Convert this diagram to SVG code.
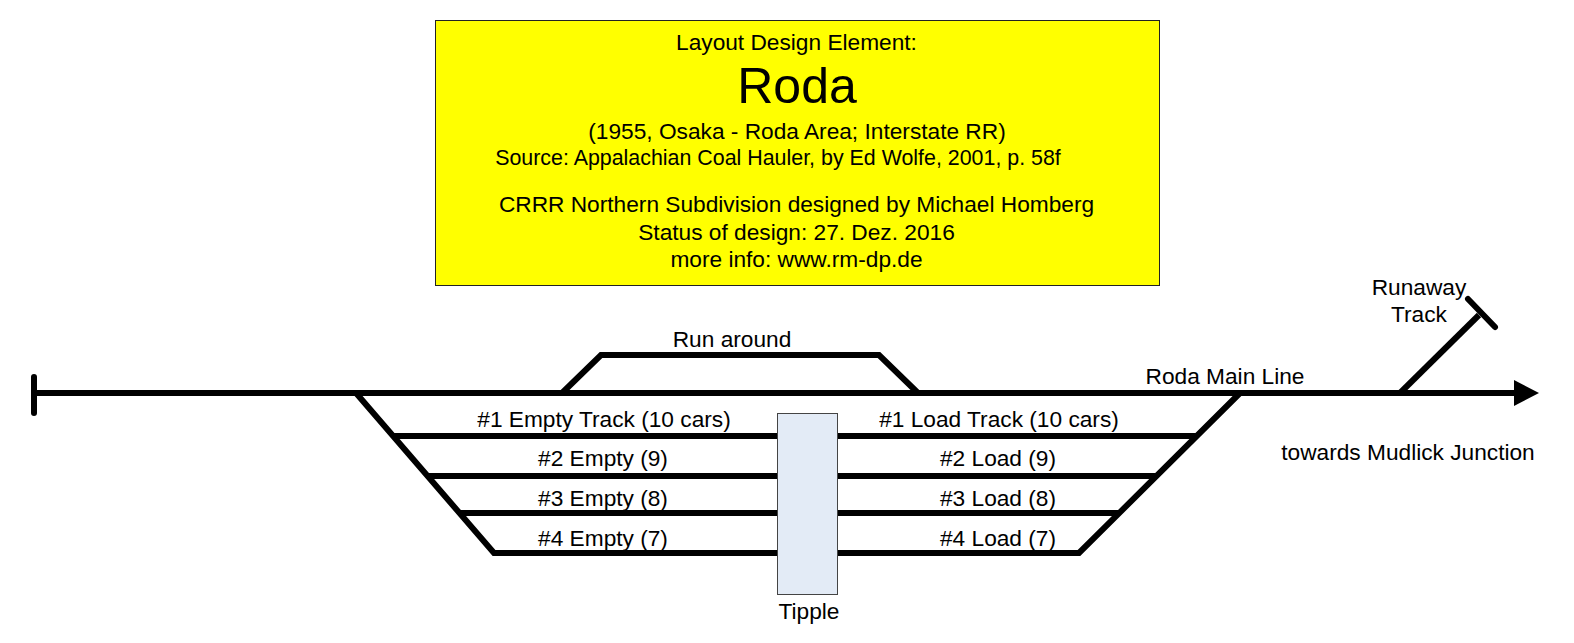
<svg xmlns="http://www.w3.org/2000/svg" width="1574" height="643" viewBox="0 0 1574 643">
<style>
text{font-family:"Liberation Sans",Arial,sans-serif;font-size:22.700px;fill:#000;text-anchor:middle}
.t{fill:none;stroke:#000;stroke-width:6}
.r{stroke-linecap:round}
</style>
<defs><marker id="a" markerUnits="userSpaceOnUse" markerWidth="26" markerHeight="28" refX="1" refY="14" orient="auto"><path d="M0 1L25 14L0 27z" fill="#000"/></marker></defs>
<rect width="1574" height="643" fill="#fff"/>
<g id="title">
<rect x="435.500" y="20.500" width="724" height="265" fill="#ff0" stroke="#222" stroke-width="1"/>
<text x="796.500" y="50">Layout Design Element:</text>
<text x="797" y="103" style="font-size:50px">Roda</text>
<text x="797" y="139">(1955, Osaka - Roda Area; Interstate RR)</text>
<text x="778" y="165" style="font-size:21.400px">Source: Appalachian Coal Hauler, by Ed Wolfe, 2001, p. 58f</text>
<text x="796.500" y="212">CRRR Northern Subdivision designed by Michael Homberg</text>
<text x="796.500" y="240">Status of design: 27. Dez. 2016</text>
<text x="796.500" y="267">more info: www.rm-dp.de</text>
</g>
<g id="connectors">
<path class="t" marker-end="url(#a)" d="M34 393H1515"/>
<path class="t r" d="M34 377V413"/>
<path class="t" d="M356 393L494 553H1079L1240 393"/>
<path class="t" d="M562 393L601 355H879L918 393"/>
<path class="t" d="M393 436H1197"/>
<path class="t" d="M428 476H1157"/>
<path class="t" d="M460 513H1119"/>
<path class="t" d="M1400 393L1479 315"/>
<path class="t r" d="M1468 299L1495 327"/>
</g>
<g id="tipple"><rect x="777.500" y="413.500" width="60" height="181" fill="#e3ebf6" stroke="#444" stroke-width="1"/><text x="809" y="619">Tipple</text></g>
<g id="labels">
<text x="732" y="347">Run around</text>
<text x="1225" y="384">Roda Main Line</text>
<text x="1419" y="295">Runaway</text>
<text x="1419" y="322">Track</text>
<text x="1408" y="460">towards Mudlick Junction</text>
<text x="604" y="427">#1 Empty Track (10 cars)</text>
<text x="603" y="466">#2 Empty (9)</text>
<text x="603" y="506">#3 Empty (8)</text>
<text x="603" y="546">#4 Empty (7)</text>
<text x="999" y="427">#1 Load Track (10 cars)</text>
<text x="998" y="466">#2 Load (9)</text>
<text x="998" y="506">#3 Load (8)</text>
<text x="998" y="546">#4 Load (7)</text>
</g>
</svg>
